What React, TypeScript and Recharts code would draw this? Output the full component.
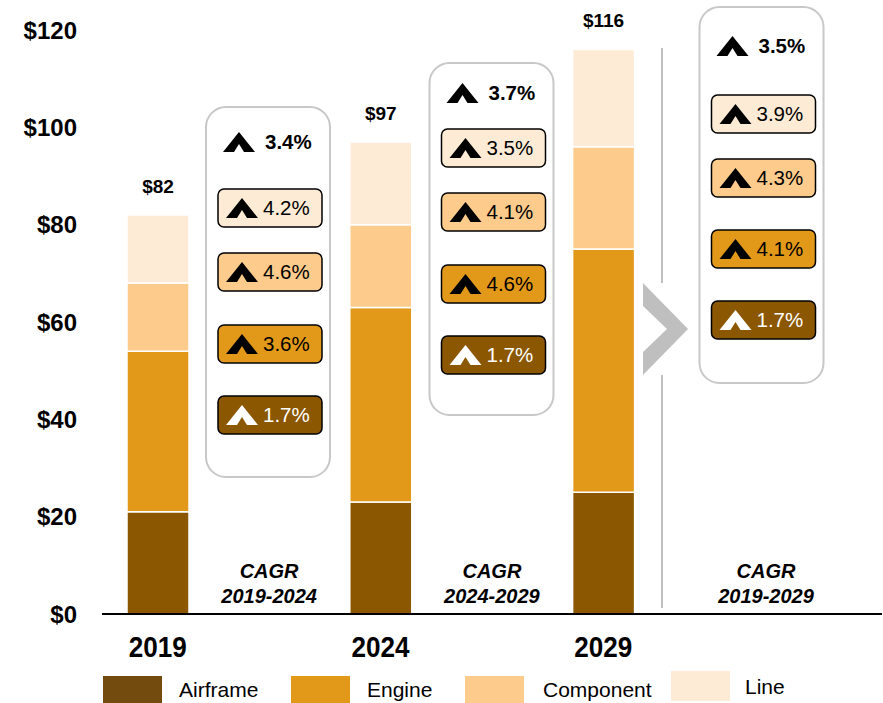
import React from "react";
import { Bar, BarChart, Customized, LabelList, XAxis, YAxis } from "recharts";

// stacked segments, $B
const years = ["2019", "2024", "2029"];
const airframe = [21, 23, 25];
const engine = [33, 40, 50];
const component = [14, 17, 21];
const line = [14, 17, 20];
const totals = [82, 97, 116];
const yTicks = [0, 20, 40, 60, 80, 100, 120];

// CAGR callouts
const periods = ["2019-2024", "2024-2029", "2019-2029"];
const totalCagr = ["3.4%", "3.7%", "3.5%"];
const lineCagr = ["4.2%", "3.5%", "3.9%"];
const componentCagr = ["4.6%", "4.1%", "4.3%"];
const engineCagr = ["3.6%", "4.6%", "4.1%"];
const airframeCagr = ["1.7%", "1.7%", "1.7%"];

const COLORS = {
  airframe: "#8B5700",
  engine: "#E2991A",
  component: "#FDCB8B",
  line: "#FDEBD5",
};

const FONT = "'Liberation Sans', Arial, sans-serif";

// 2019, CAGR, 2024, CAGR, 2029 slots on the category axis
const table: any[] = [];
years.forEach((y, i) => {
  table.push({
    name: y,
    airframe: airframe[i],
    engine: engine[i],
    component: component[i],
    line: line[i],
    total: totals[i],
  });
  if (i < 2) table.push({ name: "CAGR " + periods[i] });
});

function CategoryTick(props: any) {
  const { x, y, payload } = props;
  const v = String(payload.value);
  if (years.includes(v)) {
    // narrow bold look of the original
    return (
      <text
        x={x}
        y={y + 43}
        textAnchor="middle"
        fontFamily={FONT}
        fontWeight={700}
        fontSize={30}
        fill="#000"
        textLength={58}
        lengthAdjust="spacingAndGlyphs"
      >
        {v}
      </text>
    );
  }
  return <CagrLabel x={x} y={y} period={v.replace("CAGR ", "")} />;
}

function CagrLabel({ x, y, period }: { x: number; y: number; period: string }) {
  return (
    <g fontFamily={FONT} fontWeight={700} fontStyle="italic" fontSize={20} fill="#000" textAnchor="middle">
      <text x={x} y={y - 36}>CAGR</text>
      <text x={x} y={y - 11}>{period}</text>
    </g>
  );
}

function Chevron({ x, y, fill }: { x: number; y: number; fill: string }) {
  // x = left, y = vertical centre
  const b = y + 10;
  const pts = [
    [x, b],
    [x + 16, b - 20],
    [x + 32, b],
    [x + 21, b],
    [x + 16, b - 8],
    [x + 11, b],
  ]
    .map((p) => p.join(","))
    .join(" ");
  return <polygon points={pts} fill={fill} />;
}

const boxes = [
  { cx: 268, top: 107, bottom: 477, rows: [142, 208, 272, 344, 415] },
  { cx: 491.5, top: 63, bottom: 415, rows: [93, 148, 212, 284, 355] },
  { cx: 761.5, top: 7, bottom: 383, rows: [46, 114, 178, 249, 320] },
];

const legendItems = [
  { label: "Airframe", color: "#744B0E", x: 103, tx: 179, y: 676, ty: 690 },
  { label: "Engine", color: COLORS.engine, x: 291, tx: 367, y: 676, ty: 690 },
  { label: "Component", color: COLORS.component, x: 465, tx: 543, y: 676, ty: 690 },
  { label: "Line", color: COLORS.line, x: 671, tx: 745, y: 671, ty: 687 },
];

function Overlay() {
  const pillRows = [
    { values: lineCagr, color: COLORS.line, ink: "#000" },
    { values: componentCagr, color: COLORS.component, ink: "#000" },
    { values: engineCagr, color: COLORS.engine, ink: "#000" },
    { values: airframeCagr, color: COLORS.airframe, ink: "#fff" },
  ];
  return (
    <g>
      {boxes.map((b, i) => (
        <g key={i}>
          <rect x={b.cx - 62} y={b.top} width={124} height={b.bottom - b.top} rx={20} fill="#fff" stroke="#C8C8C8" strokeWidth={2} />
          <Chevron x={b.cx - 45} y={b.rows[0]} fill="#000" />
          <text x={b.cx - 3} y={b.rows[0] + 7} fontFamily={FONT} fontWeight={700} fontSize={20.5} fill="#000">
            {totalCagr[i]}
          </text>
          {pillRows.map((r, j) => (
            <g key={j}>
              <rect x={b.cx - 50} y={b.rows[j + 1] - 19} width={104} height={38} rx={6} fill={r.color} stroke="#000" strokeWidth={1.5} />
              <Chevron x={b.cx - 42} y={b.rows[j + 1]} fill={r.ink} />
              <text x={b.cx - 5} y={b.rows[j + 1] + 7} fontFamily={FONT} fontSize={20.5} fill={r.ink}>
                {r.values[i]}
              </text>
            </g>
          ))}
        </g>
      ))}
      {/* divider and arrow before the 10-year column */}
      <line x1={662} y1={48} x2={662} y2={283} stroke="#BFBFBF" strokeWidth={2} />
      <line x1={662} y1={375} x2={662} y2={608} stroke="#BFBFBF" strokeWidth={2} />
      <polygon points="643,283 688,329 643,375 643,352 667,329 643,306" fill="#BFBFBF" />
      <CagrLabel x={766} y={614} period={periods[2]} />
      {legendItems.map((l) => (
        <g key={l.label}>
          <rect x={l.x} y={l.y} width={59} height={30} fill={l.color} />
          <text x={l.tx} y={l.ty + 7} fontFamily={FONT} fontSize={21} fill="#000">
            {l.label}
          </text>
        </g>
      ))}
    </g>
  );
}

export default function App() {
  return (
    <div style={{ position: "absolute", left: 0, top: 0, background: "#fff" }}>
      <BarChart width={883} height={703} data={table} margin={{ top: 30, right: 1, bottom: 0, left: 0 }}>
        <XAxis
          dataKey="name"
          height={89}
          interval={0}
          tickLine={false}
          tickSize={0}
          tickMargin={0}
          padding={{ left: 0, right: 223 }}
          axisLine={{ stroke: "#000", strokeWidth: 2 }}
          tick={<CategoryTick />}
        />
        <YAxis
          width={102}
          domain={[0, 120]}
          ticks={yTicks}
          axisLine={false}
          tickLine={false}
          tickSize={0}
          tickMargin={25}
          tickFormatter={(v) => `$${v}`}
          tick={{ fontFamily: FONT, fontSize: 24, fontWeight: 700, fill: "#000" }}
        />
        <Bar dataKey="airframe" stackId="a" barSize={62} fill={COLORS.airframe} stroke="#fff" strokeWidth={1.5} isAnimationActive={false} />
        <Bar dataKey="engine" stackId="a" barSize={62} fill={COLORS.engine} stroke="#fff" strokeWidth={1.5} isAnimationActive={false} />
        <Bar dataKey="component" stackId="a" barSize={62} fill={COLORS.component} stroke="#fff" strokeWidth={1.5} isAnimationActive={false} />
        <Bar dataKey="line" stackId="a" barSize={62} fill={COLORS.line} stroke="#fff" strokeWidth={1.5} isAnimationActive={false}>
          <LabelList
            dataKey="total"
            position="top"
            offset={22}
            formatter={(v: any) => (v == null ? "" : `$${v}`)}
            style={{ fontFamily: FONT, fontSize: 19, fontWeight: 700, fill: "#000" }}
          />
        </Bar>
        <Customized component={<Overlay />} />
      </BarChart>
    </div>
  );
}
